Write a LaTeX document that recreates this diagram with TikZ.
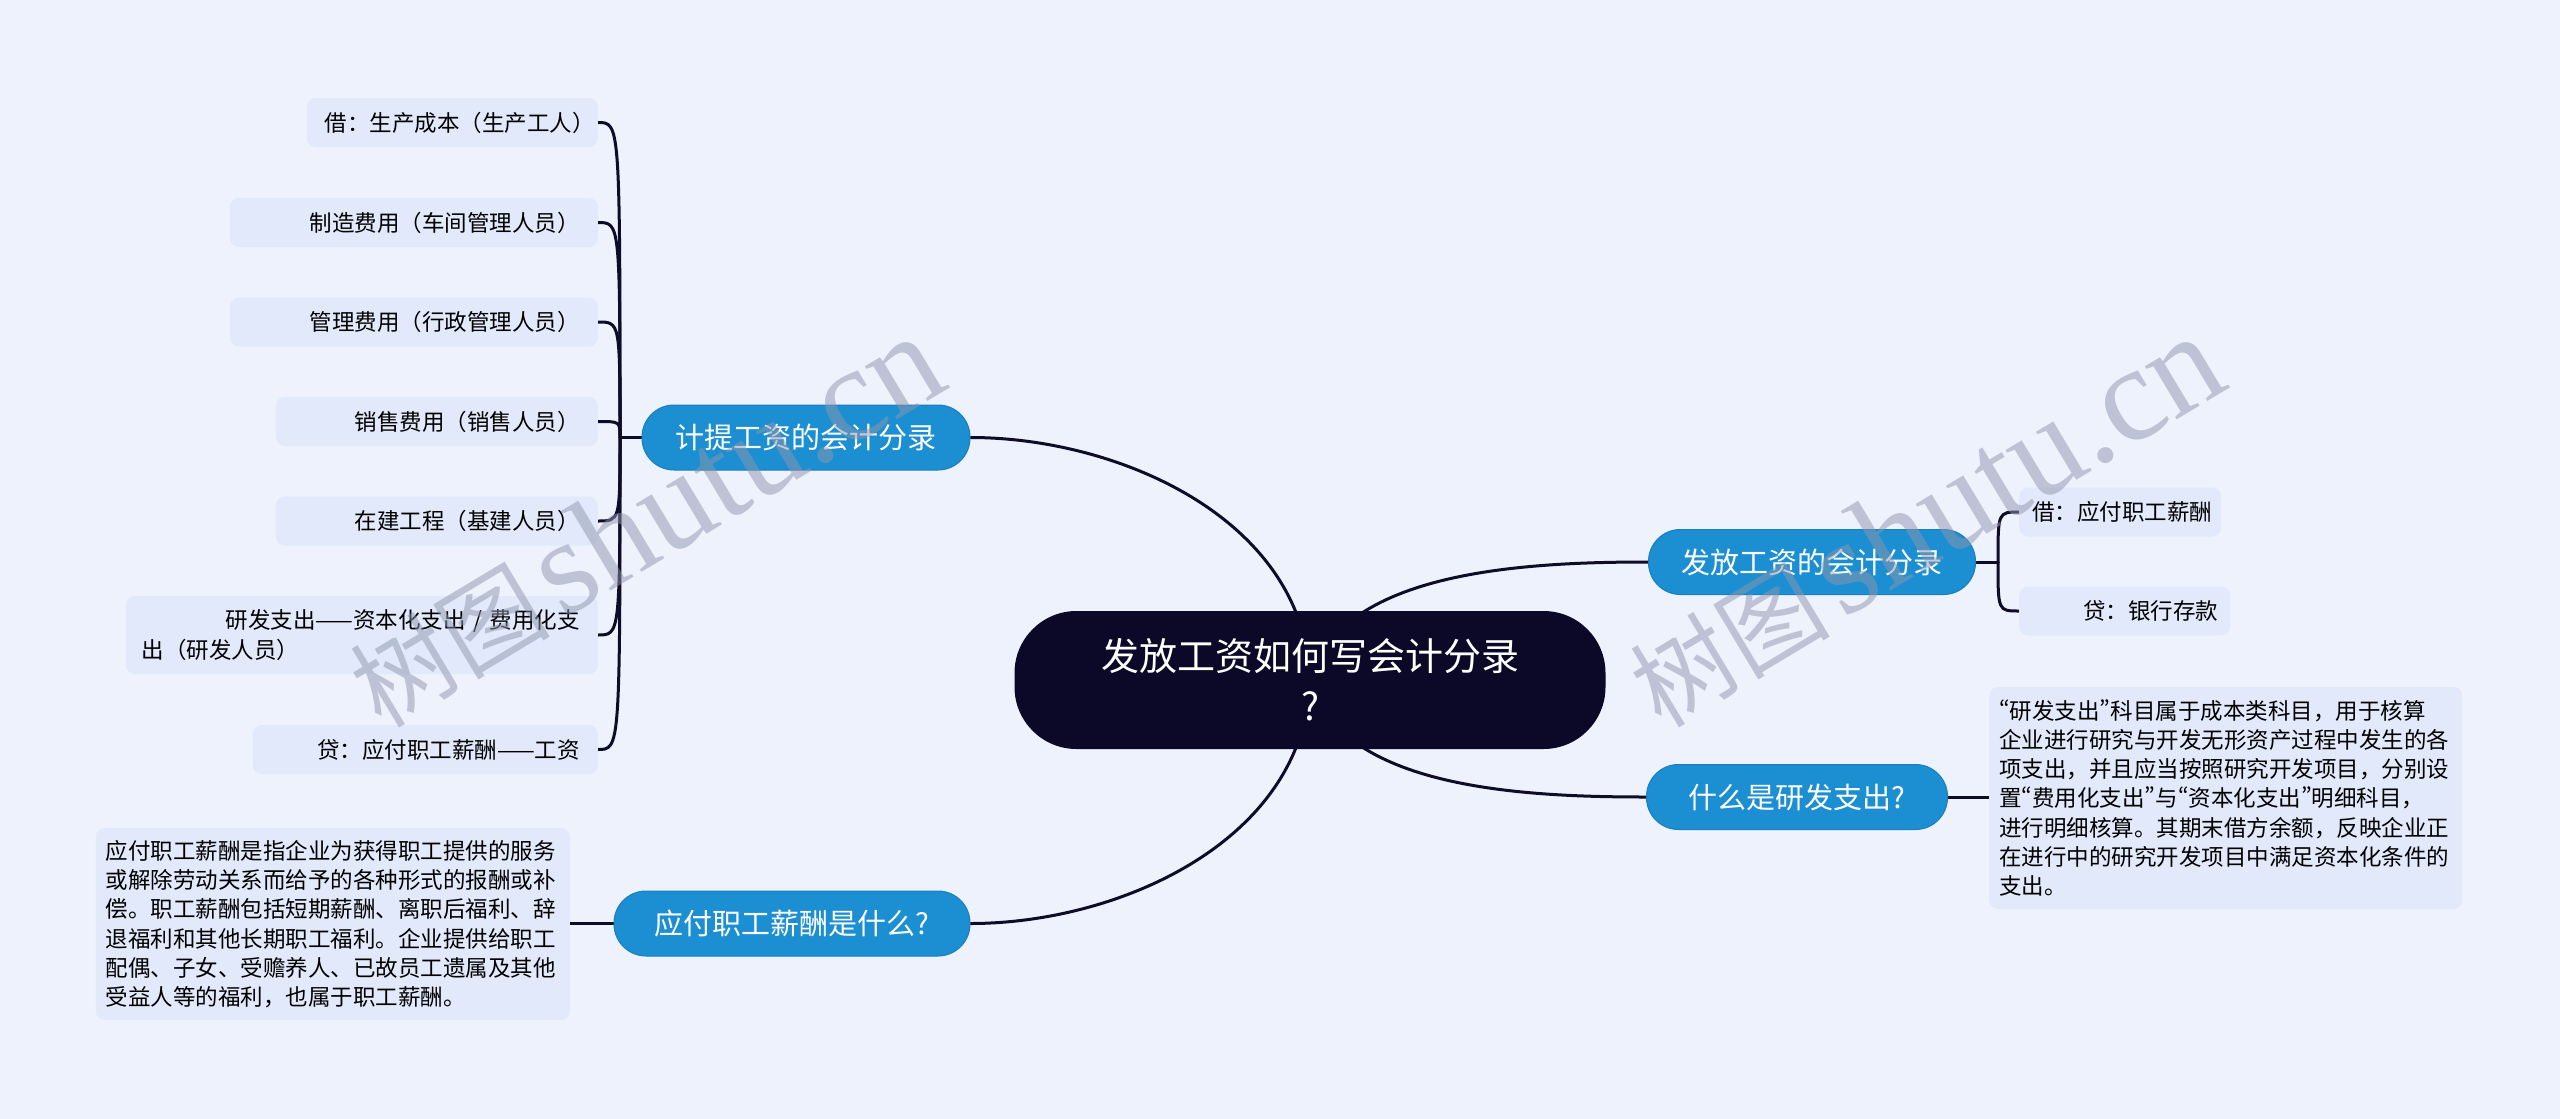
\documentclass[tikz,border=0pt]{standalone}
\usepackage{fontspec}
\setmainfont{Noto Sans CJK SC}
\newfontfamily\qfnt{Noto Sans CJK SC}[RawFeature={+pwid}]
\newfontfamily\wmlatin{Liberation Serif}
\newcommand{\myoq}{{\qfnt “}}
\newcommand{\mycq}{{\qfnt ”}}
\usetikzlibrary{calc}
\definecolor{bgc}{HTML}{EDF2FD}
\definecolor{leafc}{HTML}{E1E9FA}
\definecolor{branchc}{HTML}{1B8FD2}
\definecolor{branchd}{HTML}{1A7EC0}
\definecolor{rootc}{HTML}{0B0828}
\definecolor{linec}{HTML}{0E0C26}
\definecolor{wmc}{HTML}{8F96AC}
\pgfdeclarelayer{bg}
\pgfsetlayers{bg,main}
\begin{document}
\begin{tikzpicture}[x=1pt,y=-1pt,
  conn/.style={draw=linec, line width=3pt, line cap=round},
  root/.style={fill=rootc, text=white, rounded corners=62pt, minimum width=591pt, minimum height=138pt, inner sep=0pt, align=center, font=\fontsize{38}{50}\selectfont},
  branch/.style={fill=branchc, draw=branchd, line width=1pt, text=white, rounded corners=32pt, minimum height=65pt, inner sep=0pt, font=\fontsize{29}{35}\selectfont},
  leaf/.style={fill=leafc, rounded corners=9pt, minimum height=49pt, inner ysep=0pt, inner xsep=18pt, font=\fontsize{22.5}{29.4}\selectfont},
  textbox/.style={fill=leafc, rounded corners=9pt, inner xsep=10pt, inner ysep=0pt, align=left, font=\fontsize{22.5}{29.3}\selectfont},
  wm/.style={text=wmc, opacity=0.5, rotate=31, inner sep=0pt}
]
\useasboundingbox (0,0) rectangle (2560,1119);
\begin{pgfonlayer}{bg}
\fill[bgc] (0,0) rectangle (2560,1119);
\end{pgfonlayer}

% root and branches
\node[root] (root) at (1310,680) {发放工资如何写会计分录\\?};
\node[branch, minimum width=328pt] (b1) at (806,437.5) {计提工资的会计分录};
\node[branch, minimum width=327pt] (b2) at (1812,562) {发放工资的会计分录};
\node[branch, minimum width=301pt] (b3) at (1797,797) {什么是研发支出?};
\node[branch, minimum width=356pt] (b4) at (792,923.5) {应付职工薪酬是什么?};

% left leaves
\node[leaf, text width=255pt, align=right, anchor=east] (l1) at (598,122.5) {借：生产成本（生产工人）};
\node[leaf, text width=332pt, align=right, anchor=east] (l2) at (598,222.5) {制造费用（车间管理人员）};
\node[leaf, text width=332pt, align=right, anchor=east] (l3) at (598,322) {管理费用（行政管理人员）};
\node[leaf, text width=286pt, align=right, anchor=east] (l4) at (598,421.5) {销售费用（销售人员）};
\node[leaf, text width=286pt, align=right, anchor=east] (l5) at (598,521) {在建工程（基建人员）};
\node[leaf, text width=440pt, inner xsep=16pt, minimum height=78pt, align=left, anchor=east] (l6) at (598,635) {\makebox[438pt][r]{研发支出——资本化支出 / 费用化支}\\出（研发人员）};
\node[leaf, text width=309pt, align=right, anchor=east] (l7) at (598,749.5) {贷：应付职工薪酬——工资};

% right leaves
\node[leaf, inner xsep=13pt, text width=176pt, align=left, anchor=west] (r1) at (2019,512) {借：应付职工薪酬};
\node[leaf, inner xsep=12pt, text width=187pt, align=right, anchor=west] (r2) at (2019,611) {贷：银行存款};

% text boxes
\node[textbox, text width=453pt, minimum height=222pt, anchor=west] (t1) at (1989,798) {%
\myoq 研发支出\mycq 科目属于成本类科目，用于核算\\
企业进行研究与开发无形资产过程中发生的各\\
项支出，并且应当按照研究开发项目，分别设\\
置\myoq 费用化支出\mycq 与\myoq 资本化支出\mycq 明细科目，\\
进行明细核算。其期末借方余额，反映企业正\\
在进行中的研究开发项目中满足资本化条件的\\
支出。};
\node[textbox, text width=454pt, minimum height=192pt, anchor=east] (t2) at (570,924) {%
应付职工薪酬是指企业为获得职工提供的服务\\
或解除劳动关系而给予的各种形式的报酬或补\\
偿。职工薪酬包括短期薪酬、离职后福利、辞\\
退福利和其他长期职工福利。企业提供给职工\\
配偶、子女、受赡养人、已故员工遗属及其他\\
受益人等的福利，也属于职工薪酬。};

\coordinate (jl) at (620,437.5);
\coordinate (jr) at (1998,562);

\begin{pgfonlayer}{bg}
\draw[conn] (root.center) .. controls (1305,520) and (1120,437.5) .. (b1.east);
\draw[conn] (root.center) .. controls (1305,840) and (1120,923.5) .. (b4.east);
\draw[conn] (root.center) .. controls (1340,572) and (1520,562) .. (b2.west);
\draw[conn] (root.center) .. controls (1340,788) and (1520,797) .. (b3.west);
\draw[conn] (b1.west) -- (jl);
\foreach \n in {l1,l2,l3,l4,l5,l6,l7}
  \draw[conn] (jl) .. controls (jl |- \n.east) and (jl |- \n.east) .. (\n.east);
\draw[conn] (b2.east) -- (jr);
\draw[conn] (jr) .. controls (jr |- r1.west) and (jr |- r1.west) .. (r1.west);
\draw[conn] (jr) .. controls (jr |- r2.west) and (jr |- r2.west) .. (r2.west);
\draw[conn] (b3.east) -- (b3.east -| t1.west);
\draw[conn] (b4.west) -- (b4.west -| t2.east);
\end{pgfonlayer}

% watermarks
\node[wm] (wm1) at (645,521) {\fontsize{100}{100}\selectfont 树图\hspace{12pt}{\wmlatin\fontsize{135}{135}\selectfont shutu.cn}};
\node[wm] (wm2) at (1925,521) {\fontsize{100}{100}\selectfont 树图\hspace{12pt}{\wmlatin\fontsize{135}{135}\selectfont shutu.cn}};
\end{tikzpicture}
\end{document}
